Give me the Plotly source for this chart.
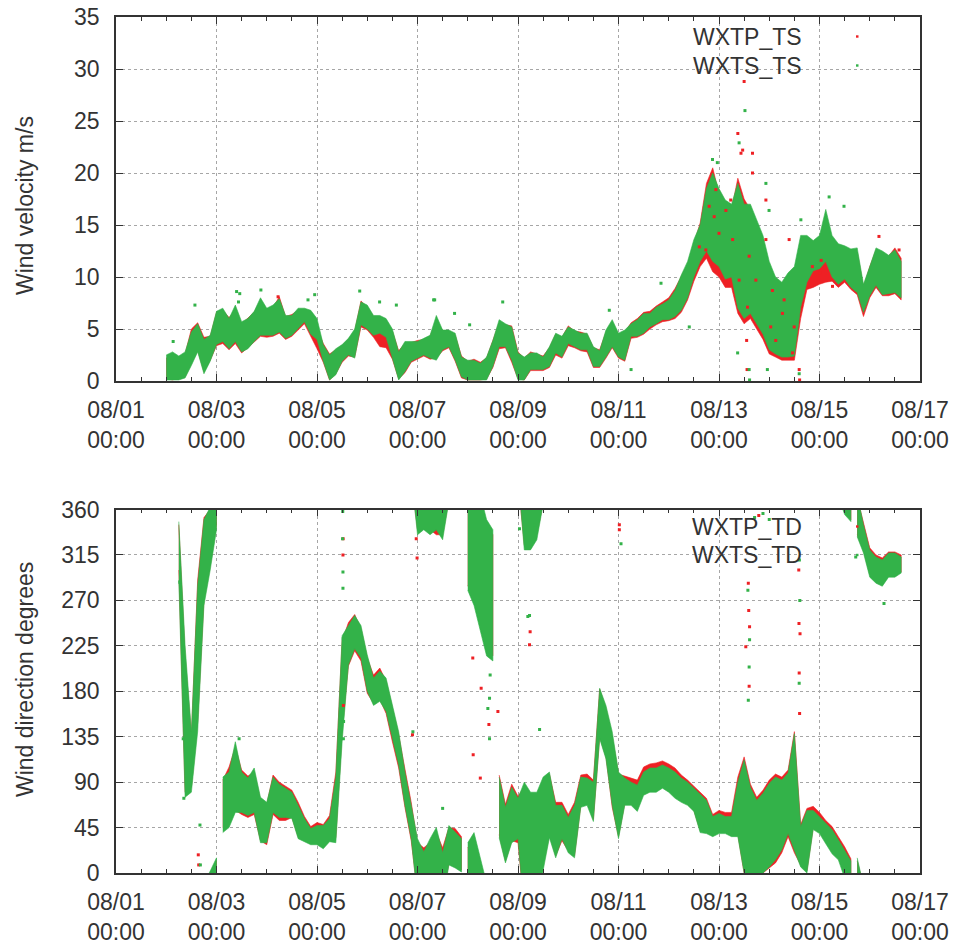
import pandas as pd
import plotly.graph_objects as go

# ---------------------------------------------------------------------------
# Time base: 3-hourly bins starting 08/02 00:00
# ---------------------------------------------------------------------------
T0 = pd.Timestamp("2014-08-01 00:00")
STEP_H = 3
N_BINS = 118
times = [T0 + pd.Timedelta(hours=24 + STEP_H * i) for i in range(N_BINS)]

tick_dates = [T0 + pd.Timedelta(days=d) for d in range(0, 17, 2)]
tick_text = [f"{t:%m/%d}<br>{t:%H:%M}" for t in tick_dates]

# ---------------------------------------------------------------------------
# Wind speed (m/s): low / high of each 3-hour bin
# ---------------------------------------------------------------------------
wxts_ts_lo = [0.1, 0.1, 0.1, 0.3, 1.5, 2.8, 0.7, 1.9,
              3.5, 3.8, 3.1, 3.8, 2.8, 3.1, 3.8, 4.4,
              4.4, 4.4, 4.7, 4.1, 4.4, 5.0, 5.7, 4.5,
              4.0, 1.9, 0.1, 0.6, 1.9, 2.5, 2.2, 5.4,
              5.0, 4.4, 4.6, 4.2, 2.2, 0.1, 0.9, 1.9,
              2.2, 2.5, 2.2, 2.0, 3.0, 3.3, 2.0, 0.4,
              0.1, 0.1, 0.1, 0.1, 1.4, 3.3, 3.3, 2.0,
              0.1, 0.1, 1.1, 1.1, 1.1, 1.4, 2.7, 2.3,
              3.6, 3.3, 3.0, 3.0, 1.4, 1.4, 2.3, 3.3,
              2.3, 2.0, 4.3, 4.3, 4.6, 5.2, 5.5, 5.9,
              5.9, 6.2, 6.8, 8.0, 10.0, 11.5, 12.5, 11.5,
              11.0, 9.8, 10.0, 7.0, 6.0, 6.5, 5.5, 4.5,
              3.0, 2.6, 2.3, 2.3, 2.4, 7.1, 9.5, 10.6,
              10.8, 11.5, 10.0, 9.3, 9.8, 9.0, 8.5, 6.6,
              8.2, 9.2, 8.3, 8.4, 8.5, 8.0]
wxts_ts_hi = [2.5, 2.8, 2.4, 2.8, 4.7, 5.5, 4.0, 4.4,
              6.7, 7.0, 6.0, 7.3, 5.7, 6.0, 6.7, 8.0,
              7.0, 7.3, 7.9, 6.3, 6.3, 7.0, 7.0, 6.8,
              6.0, 3.5, 2.5, 3.1, 3.5, 4.1, 5.0, 7.6,
              7.3, 6.3, 6.3, 6.0, 5.0, 2.8, 3.8, 3.8,
              3.8, 4.1, 4.4, 6.3, 4.9, 4.9, 4.6, 2.3,
              2.0, 2.0, 1.7, 2.3, 3.9, 5.9, 5.5, 5.2,
              2.7, 2.3, 2.7, 2.7, 2.3, 3.3, 4.6, 4.3,
              5.2, 4.9, 4.6, 4.6, 3.3, 2.9, 4.9, 5.9,
              4.6, 4.9, 5.5, 5.9, 6.5, 6.5, 7.1, 7.4,
              7.8, 8.7, 10.2, 11.5, 13.6, 15.0, 18.5, 20.0,
              18.5, 17.4, 17.0, 19.0, 17.0, 17.0, 15.5, 14.0,
              11.5, 10.0, 9.5, 10.4, 11.0, 14.0, 14.0, 13.5,
              14.0, 16.5, 14.0, 13.2, 13.0, 12.7, 12.8, 9.3,
              11.0, 12.8, 12.5, 12.1, 12.6, 11.5]

wxtp_ts_lo = [0.2, 0.1, 0.3, 0.4, 1.8, 3.0, 0.9, 2.0,
              3.4, 3.6, 3.0, 3.6, 2.7, 3.2, 3.7, 4.3,
              4.2, 4.3, 4.6, 4.0, 4.3, 4.9, 5.5, 4.3,
              3.1, 1.8, 0.1, 0.7, 1.8, 2.4, 2.3, 5.2,
              4.9, 4.2, 3.3, 3.2, 2.1, 0.2, 0.8, 1.8,
              2.1, 2.4, 2.1, 2.2, 2.9, 3.2, 1.9, 0.3,
              0.1, 0.1, 0.1, 0.2, 1.3, 3.1, 3.2, 1.8,
              0.2, 0.1, 1.0, 1.0, 1.0, 1.3, 2.5, 2.2,
              3.4, 3.2, 2.9, 2.8, 1.3, 1.3, 2.2, 3.2,
              2.2, 1.9, 4.1, 4.2, 4.5, 5.0, 5.4, 5.7,
              5.8, 6.0, 6.6, 7.8, 9.6, 11.0, 11.8, 10.5,
              10.0, 9.0, 9.0, 6.5, 5.5, 6.0, 5.0, 4.0,
              2.6, 2.3, 2.0, 2.0, 2.0, 6.0, 8.8, 9.0,
              9.3, 9.5, 9.6, 9.0, 9.5, 8.8, 8.3, 6.2,
              8.0, 9.0, 8.2, 8.2, 8.4, 7.8]
wxtp_ts_hi = [2.2, 2.5, 2.2, 2.6, 5.0, 5.6, 4.2, 4.3,
              6.6, 6.8, 6.1, 6.8, 5.5, 6.1, 6.6, 7.7,
              6.9, 7.1, 8.1, 6.2, 6.4, 6.8, 6.9, 6.6,
              5.0, 3.6, 2.6, 3.0, 3.4, 4.0, 4.8, 7.7,
              7.1, 6.2, 5.0, 4.8, 4.8, 2.9, 3.6, 3.7,
              3.9, 4.0, 4.3, 5.8, 4.8, 4.8, 4.4, 2.4,
              1.9, 2.1, 1.8, 2.2, 3.8, 5.6, 5.4, 5.3,
              2.8, 2.2, 2.8, 2.6, 2.4, 3.2, 4.5, 4.2,
              5.3, 4.8, 4.7, 4.5, 3.2, 3.0, 4.7, 5.6,
              4.5, 4.7, 5.6, 6.0, 6.6, 6.7, 7.2, 7.6,
              8.0, 8.9, 10.0, 11.2, 13.2, 15.2, 19.0, 20.5,
              18.0, 17.0, 16.5, 19.5, 17.5, 16.5, 15.0, 13.5,
              11.0, 9.5, 9.0, 9.8, 10.5, 13.0, 13.0, 12.5,
              12.3, 13.0, 12.8, 12.5, 12.6, 12.0, 12.4, 9.0,
              11.0, 12.6, 12.1, 12.0, 12.8, 11.8]

# Isolated speed samples (hours after 08/01 00:00, m/s)
wxts_ts_pts_h = [27.3, 37.7, 57.6, 59.1, 58.5, 69.2, 91.7, 94.9, 116.4, 125.9,
                 133.9, 151.7, 152.2, 161.7, 168.9, 184.7, 235.6, 246.0, 260.3, 273.8,
                 284.9, 287.2, 297.6, 296.9, 302.4, 302.6, 310.4, 311.9, 311.1, 318.3,
                 326.3, 327.1, 340.6, 347.7, 300.4]
wxts_ts_pts_v = [3.8, 7.3, 8.6, 8.4, 7.6, 8.75, 7.8, 8.3, 8.65, 7.6,
                 7.3, 7.8, 7.8, 6.5, 5.4, 7.6, 6.8, 1.1, 9.4, 5.2,
                 21.3, 21.0, 22.9, 2.7, 1.1, 0.1, 19.0, 16.4, 1.1, 2.7,
                 0.7, 15.5, 17.7, 16.8, 26.0]
wxtp_ts_pts_h = [77.4, 283.3, 285.7, 288.0, 291.3, 294.5, 298.5, 299.3, 304.0, 304.0,
                 302.4, 305.6, 301.6, 301.2, 301.4, 310.4, 310.4, 313.5, 315.1, 312.7,
                 318.3, 319.1, 321.5, 323.1, 323.9, 326.3, 326.5, 297.6, 293.6, 286.5,
                 281.7, 278.6, 332.6, 336.4, 336.8, 342.2, 364.4, 374.0, 300.0, 297.0]
wxtp_ts_pts_v = [8.1, 16.8, 15.8, 14.2, 16.4, 13.6, 21.9, 22.2, 21.9, 20.0,
                 12.0, 9.7, 7.1, 3.9, 1.1, 17.4, 13.6, 8.7, 3.9, 5.2,
                 6.5, 7.8, 13.6, 2.7, 5.2, 1.1, 0.1, 9.7, 17.4, 18.4,
                 12.6, 12.9, 11.0, 10.4, 11.6, 9.1, 13.9, 12.6, 28.8, 23.8]

# ---------------------------------------------------------------------------
# Wind direction (degrees, unwrapped across north): low / high per bin
# ---------------------------------------------------------------------------
wxts_td_lo = [None, None, 290, 75, 80, 140, 265, 300,
              340, 40, 45, 60, 60, 57, 60, 30,
              30, 60, 55, 55, 54, 34, 31, 28,
              28, 24, 31, 30, 130, 206, 222, 213,
              180, 166, 170, 160, 133, 107, 67, 34,
              -25, -20, -25, -20, -30, 8, 5, 1,
              280, 265, 240, 215, 210, 35, 10, 30,
              34, -40, -40, -30, 5, 35, 15, 34,
              20, 15, 65, 67, 51, 133, 113, 67,
              34, 67, 67, 61, 77, 80, 80, 84,
              80, 74, 70, 67, 61, 40, 39, 36,
              39, 39, 36, 36, 0, 0, 0, 0,
              6, 13, 23, 39, 23, 6, 0, 43,
              39, 29, 19, 13, -5, -12, 333, 317,
              293, 287, 284, 293, 293, 297]
wxts_td_hi = [None, None, 348, 225, 140, 285, 350, 362,
              375, 95, 100, 130, 100, 94, 104, 75,
              70, 95, 88, 84, 80, 67, 54, 44,
              47, 47, 54, 95, 235, 245, 255, 245,
              216, 193, 200, 193, 166, 140, 100, 67,
              34, 21, 34, 45, 20, 47, 41, 34,
              390, 400, 375, 350, 340, 95, 65, 85,
              74, 90, 80, 80, 95, 100, 67, 67,
              55, 67, 95, 94, 90, 183, 166, 140,
              100, 94, 90, 87, 100, 104, 104, 107,
              104, 100, 94, 90, 84, 79, 72, 56,
              59, 56, 56, 90, 112, 85, 72, 79,
              89, 95, 92, 99, 138, 46, 62, 62,
              56, 49, 43, 33, 23, 12, 375, 345,
              320, 313, 310, 317, 317, 313]

wxtp_td_lo = [None, None, 300, 80, 85, 150, 270, 305,
              345, 45, 50, 62, 58, 55, 58, 32,
              28, 58, 52, 52, 55, 36, 32, 30,
              30, 26, 33, 35, 140, 205, 220, 210,
              178, 168, 172, 158, 130, 104, 65, 32,
              -20, -15, -20, -25, -25, 10, 8, 3,
              285, 270, 245, 220, 215, 38, 12, 32,
              30, -35, -35, -25, 8, 38, 17, 32,
              22, 17, 67, 70, 53, 135, 115, 65,
              36, 69, 70, 65, 80, 84, 85, 88,
              84, 77, 72, 68, 62, 42, 40, 38,
              41, 42, 40, 38, 0, 0, 0, 0,
              5, 10, 20, 36, 20, 8, 2, 45,
              42, 32, 22, 15, 2, -10, 335, 320,
              296, 290, 287, 295, 295, 298]
wxtp_td_hi = [None, None, 345, 215, 135, 290, 352, 360,
              372, 92, 105, 125, 102, 96, 100, 72,
              68, 97, 90, 86, 82, 70, 56, 46,
              50, 48, 57, 100, 230, 248, 256, 242,
              213, 196, 203, 190, 163, 137, 103, 70,
              30, 25, 30, 40, 25, 45, 44, 36,
              385, 395, 370, 345, 335, 97, 68, 88,
              76, 85, 78, 76, 92, 98, 70, 70,
              58, 70, 97, 98, 92, 182, 163, 135,
              98, 96, 94, 92, 105, 108, 109, 111,
              108, 104, 97, 92, 86, 80, 74, 58,
              62, 60, 60, 95, 115, 88, 75, 82,
              92, 98, 95, 102, 140, 48, 64, 66,
              60, 52, 46, 36, 26, 14, 372, 347,
              322, 315, 312, 318, 318, 315]

# Isolated direction samples (hours after 08/01 00:00, degrees)
wxts_td_pts_h = [30.5, 32.1, 32.4, 40.1, 40.3, 108.4, 108.4, 108.5, 108.6, 108.7,
                 108.6, 108.3, 108.2, 58.8, 141.8, 178.4, 177.6, 178.4, 178.7, 197.5,
                 199.9, 192.7, 241.2, 156.0, 302.4, 302.0, 302.6, 301.8, 326.3, 326.6,
                 326.4, 196.7, 202.3, 366.8, 353.3, 305.0, 309.0, 312.0]
wxts_td_pts_v = [288, 133, 74, 47.5, 8, 298, 282, 232, 199, 150,
                 133, 358, 331, 133, 140, 173, 163, 133, 196, 255,
                 345, 341, 326, 64, 204, 171, 231, 280, 188, 270,
                 310, 254, 142, 267, 313, 352, 356, 350]
wxtp_td_pts_h = [108.5, 108.4, 108.6, 39.3, 39.5, 141.6, 143.4, 143.8, 170.4, 174.4,
                 170.6, 182.4, 197.5, 197.8, 174.0, 178.1, 240.4, 302.4, 302.2, 302.6,
                 302.0, 300.8, 326.3, 326.5, 326.7, 326.1, 326.2, 240.4, 307.0]
wxtp_td_pts_v = [331, 315, 166, 18, 8, 137, 331, 312, 213, 183,
                 117, 160, 226, 239, 94, 147, 345, 185, 260, 244,
                 287, 224, 198, 158, 237, 300, 247, 340, 354]

# ---------------------------------------------------------------------------
RED = "#ee2024"
GREEN = "#33b249"
INK = "#333333"
FONT = "Liberation Sans"
FS = 23
W, H = 954, 945
HALF_BIN = pd.Timedelta(hours=STEP_H / 2)


def split_runs(lo, hi):
    """Group consecutive bins into runs, breaking at gaps and at north wraps."""
    runs, cur, prev_mid = [], [], None
    for t, a, b in zip(times, lo, hi):
        if a is None or b is None:
            if cur:
                runs.append(cur)
            cur, prev_mid = [], None
            continue
        mid = (a + b) / 2
        if prev_mid is not None and abs(mid - prev_mid) > 180:
            runs.append(cur)
            cur = []
        cur.append((t, a, b))
        prev_mid = mid
    if cur:
        runs.append(cur)
    return runs


def band(lo, hi, color, xa, ya, shifts=(0,)):
    """Filled envelope between the low and high readings of every bin."""
    out = []
    runs = split_runs(lo, hi)
    for s in shifts:
        xs, ys = [], []
        for run in runs:
            if len(run) == 1:
                t, a, b = run[0]
                run = [(t - HALF_BIN, a, b), (t + HALF_BIN, a, b)]
            xs += [r[0] for r in run] + [r[0] for r in reversed(run)] + [None]
            ys += [r[2] + s for r in run] + [r[1] + s for r in reversed(run)] + [None]
        out.append(go.Scatter(x=xs, y=ys, mode="lines", fill="toself",
                              fillcolor=color, line=dict(width=0.6, color=color),
                              xaxis=xa, yaxis=ya, showlegend=False,
                              hoverinfo="skip"))
    return out


def dots(hours, vals, color, xa, ya):
    return [go.Scatter(
        x=[T0 + pd.Timedelta(hours=h) for h in hours], y=vals, mode="markers",
        marker=dict(color=color, size=3, symbol="square", line=dict(width=0)),
        xaxis=xa, yaxis=ya, showlegend=False, hoverinfo="skip")]


wrap = (-360, 0, 360)
traces = []
traces += band(wxtp_ts_lo, wxtp_ts_hi, RED, "x", "y")
traces += band(wxts_ts_lo, wxts_ts_hi, GREEN, "x", "y")
traces += dots(wxtp_ts_pts_h, wxtp_ts_pts_v, RED, "x", "y")
traces += dots(wxts_ts_pts_h, wxts_ts_pts_v, GREEN, "x", "y")
traces += band(wxtp_td_lo, wxtp_td_hi, RED, "x2", "y2", wrap)
traces += band(wxts_td_lo, wxts_td_hi, GREEN, "x2", "y2", wrap)
traces += dots(wxtp_td_pts_h, wxtp_td_pts_v, RED, "x2", "y2")
traces += dots(wxts_td_pts_h, wxts_td_pts_v, GREEN, "x2", "y2")

fig = go.Figure(traces)

# plot-area edges in pixels
PL, PR = 116, 920
TOP1, BOT1 = 17, 381
TOP2, BOT2 = 509.5, 873


def px_x(x):
    return x / W


def px_y(y):
    return 1 - y / H


axis_common = dict(
    ticks="inside", ticklen=7, tickwidth=1, tickcolor=INK,
    showline=True, linecolor=INK, linewidth=1.5, mirror="ticks",
    showgrid=True, gridcolor="#a6a6a6", gridwidth=1, griddash="3px,3px",
    zeroline=False, automargin=False,
    tickfont=dict(family=FONT, size=FS, color=INK),
)
xaxis_common = dict(
    type="date", range=[T0, T0 + pd.Timedelta(days=16)],
    tickvals=tick_dates, ticktext=tick_text, ticklabelstandoff=8,
    minor=dict(ticks="inside", ticklen=4, tickwidth=1, tickcolor=INK,
               dtick=12 * 3600 * 1000, tick0=T0, showgrid=False),
    domain=[px_x(PL), px_x(PR)], **axis_common,
)

fig.update_layout(
    width=W, height=H, margin=dict(l=0, r=0, t=0, b=0, autoexpand=False),
    paper_bgcolor="white", plot_bgcolor="white", showlegend=False,
    font=dict(family=FONT, size=FS, color=INK),
    xaxis=dict(anchor="y", **xaxis_common),
    yaxis=dict(anchor="x", range=[0, 35], tick0=0, dtick=5, ticklabelstandoff=10,
               domain=[px_y(BOT1), px_y(TOP1)], **axis_common),
    xaxis2=dict(anchor="y2", **xaxis_common),
    yaxis2=dict(anchor="x2", range=[0, 360], tick0=0, dtick=45, ticklabelstandoff=10,
                domain=[px_y(BOT2), px_y(TOP2)], **axis_common),
)

annotations = [
    dict(text="Wind velocity m/s", x=px_x(25), y=px_y(206), textangle=-90),
    dict(text="Wind direction degrees", x=px_x(25), y=px_y(680), textangle=-90),
]
legend_rows = [("WXTP_TS", 36.5, RED), ("WXTS_TS", 65.5, GREEN),
               ("WXTP_TD", 526.5, RED), ("WXTS_TD", 555.0, GREEN)]
shapes = []
for label, ypix, col in legend_rows:
    annotations.append(dict(text=label, x=px_x(804), y=px_y(ypix),
                            xanchor="right", yanchor="middle"))
    shapes.append(dict(type="rect", xref="paper", yref="paper",
                       x0=px_x(856), x1=px_x(858.5),
                       y0=px_y(ypix + 1.2), y1=px_y(ypix - 1.2),
                       fillcolor=col, line=dict(width=0), layer="above"))
for a in annotations:
    a.update(xref="paper", yref="paper", showarrow=False,
             font=dict(family=FONT, size=FS, color=INK))
    a.setdefault("xanchor", "center")
    a.setdefault("yanchor", "middle")
fig.update_layout(annotations=annotations, shapes=shapes)

fig.write_html("out.html")
